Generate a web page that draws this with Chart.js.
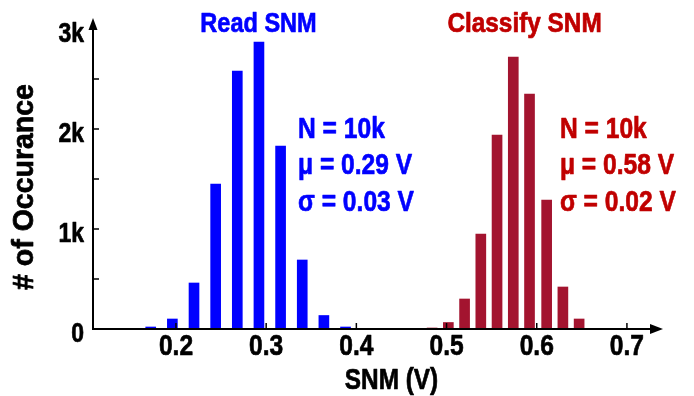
<!DOCTYPE html>
<html>
<head>
<meta charset="utf-8">
<script src="https://cdn.jsdelivr.net/npm/chart.js@4/dist/chart.umd.min.js"></script>
<style>
  html, body { margin: 0; padding: 0; background: #fff; }
  #wrap { width: 694px; height: 396px; position: relative; }
</style>
</head>
<body>
<div id="wrap"><canvas id="c" width="694" height="396"></canvas></div>
<script>
// ---- data ----
const readSnmBins = [0.172, 0.196, 0.220, 0.244, 0.268, 0.292, 0.316, 0.340, 0.364, 0.388];
const readSnmCounts = [20, 100, 460, 1450, 2580, 2870, 1830, 690, 135, 20];
const classifySnmBins = [0.484, 0.502, 0.520, 0.538, 0.556, 0.574, 0.592, 0.611, 0.629, 0.647];
const classifySnmCounts = [10, 65, 300, 950, 1940, 2720, 2350, 1290, 420, 100];
const xTickValues = [0.2, 0.3, 0.4, 0.5, 0.6, 0.7];
const xTickLabels = ['0.2', '0.3', '0.4', '0.5', '0.6', '0.7'];
const yTickValues = [0, 1000, 2000, 3000];
const yTickLabels = ['0', '1k', '2k', '3k'];
const readStats = ['N = 10k', 'μ = 0.29 V', 'σ = 0.03 V'];
const classifyStats = ['N = 10k', 'μ = 0.58 V', 'σ = 0.02 V'];
const xTitle = 'SNM (V)';
const yTitle = '# of Occurance';

const FONT = "'Liberation Sans', Arial, sans-serif";
const NARROW = 0.82;
const BLUE = '#0000ff';
const RED_BAR = '#a3142f';
const RED_TEXT = '#c00000';

const toPoints = (xs, ys) => xs.map((x, i) => ({ x: x, y: ys[i] }));

function drawText(ctx, text, x, y, size, color, align, sx, rot) {
  ctx.save();
  ctx.translate(x, y);
  if (rot) ctx.rotate(rot);
  ctx.scale(sx, 1);
  ctx.font = 'bold ' + size + 'px ' + FONT;
  ctx.fillStyle = color;
  ctx.strokeStyle = color;
  ctx.lineWidth = 0.7;
  ctx.lineJoin = 'round';
  ctx.textAlign = align;
  ctx.textBaseline = 'alphabetic';
  ctx.fillText(text, 0, 0);
  ctx.strokeText(text, 0, 0);
  ctx.restore();
}

const axesPlugin = {
  id: 'axesPlugin',
  afterDraw(chart) {
    const ctx = chart.ctx;
    const xs = chart.scales.x, ys = chart.scales.y;
    const ca = chart.chartArea;
    const x0 = ca.left, y0 = ys.getPixelForValue(0);
    ctx.save();
    ctx.strokeStyle = '#000';
    ctx.fillStyle = '#000';
    ctx.lineWidth = 2;
    // x axis line + arrow
    const xEnd = ca.right;
    ctx.beginPath();
    ctx.moveTo(x0, y0); ctx.lineTo(xEnd - 8, y0); ctx.stroke();
    ctx.beginPath();
    ctx.moveTo(xEnd, y0); ctx.lineTo(xEnd - 13, y0 - 5); ctx.lineTo(xEnd - 13, y0 + 5); ctx.closePath(); ctx.fill();
    // y axis line + arrow
    const yTop = ys.getPixelForValue(3000) - 11;
    ctx.beginPath();
    ctx.moveTo(x0, y0 + 1); ctx.lineTo(x0, yTop + 8); ctx.stroke();
    ctx.beginPath();
    ctx.moveTo(x0, yTop); ctx.lineTo(x0 - 4.5, yTop + 12); ctx.lineTo(x0 + 4.5, yTop + 12); ctx.closePath(); ctx.fill();
    // tick marks
    ctx.lineWidth = 1.5;
    for (let v = 500; v < 3000; v += 500) {
      const py = ys.getPixelForValue(v);
      ctx.beginPath(); ctx.moveTo(x0, py); ctx.lineTo(x0 + 6, py); ctx.stroke();
    }
    xTickValues.forEach(v => {
      const px = xs.getPixelForValue(v);
      ctx.beginPath(); ctx.moveTo(px, y0); ctx.lineTo(px, y0 - 6); ctx.stroke();
    });
    ctx.restore();

    // tick labels
    xTickValues.forEach((v, i) => {
      drawText(ctx, xTickLabels[i], xs.getPixelForValue(v), y0 + 26, 30, '#000', 'center', NARROW);
    });
    yTickValues.forEach((v, i) => {
      drawText(ctx, yTickLabels[i], x0 - 9, ys.getPixelForValue(v) + 13, 28, '#000', 'right', NARROW);
    });
    // axis titles
    drawText(ctx, xTitle, xs.getPixelForValue(0.439), y0 + 60, 29, '#000', 'center', 0.84);
    drawText(ctx, yTitle, 33, ys.getPixelForValue(1500) + 8, 30, '#000', 'center', 0.95, -Math.PI / 2);

    // annotations
    drawText(ctx, 'Read SNM', xs.getPixelForValue(0.2915), ys.getPixelForValue(2968), 28, BLUE, 'center', 0.84);
    drawText(ctx, 'Classify SNM', xs.getPixelForValue(0.5865), ys.getPixelForValue(2968), 28, RED_TEXT, 'center', 0.87);
    const lineVals = [1911, 1551, 1182];
    readStats.forEach((t, i) => drawText(ctx, t, xs.getPixelForValue(0.3353), ys.getPixelForValue(lineVals[i]), 30, BLUE, 'left', NARROW));
    classifyStats.forEach((t, i) => drawText(ctx, t, xs.getPixelForValue(0.6257), ys.getPixelForValue(lineVals[i]), 30, RED_TEXT, 'left', NARROW));
  }
};

new Chart(document.getElementById('c'), {
  type: 'bar',
  data: {
    datasets: [
      { label: 'Read SNM', data: toPoints(readSnmBins, readSnmCounts), backgroundColor: BLUE, barThickness: 10, grouped: false },
      { label: 'Classify SNM', data: toPoints(classifySnmBins, classifySnmCounts), backgroundColor: RED_BAR, barThickness: 10, grouped: false }
    ]
  },
  options: {
    responsive: false,
    animation: false,
    events: [],
    layout: { padding: { top: 29, right: 31, left: 0, bottom: 0 } },
    plugins: { legend: { display: false }, tooltip: { enabled: false } },
    scales: {
      x: {
        type: 'linear',
        offset: false,
        min: 0.108,
        max: 0.740,
        afterBuildTicks: s => { s.ticks = xTickValues.map(v => ({ value: v })); },
        afterFit: s => { s.height = 67; },
        grid: { display: false, drawTicks: false },
        border: { display: false },
        ticks: { display: false },
        title: { display: false }
      },
      y: {
        min: 0,
        max: 3000,
        afterBuildTicks: s => { s.ticks = yTickValues.map(v => ({ value: v })); },
        afterFit: s => { s.width = 93; },
        grid: { display: false, drawTicks: false },
        border: { display: false },
        ticks: { display: false },
        title: { display: false }
      }
    }
  },
  plugins: [axesPlugin]
});
</script>
</body>
</html>
